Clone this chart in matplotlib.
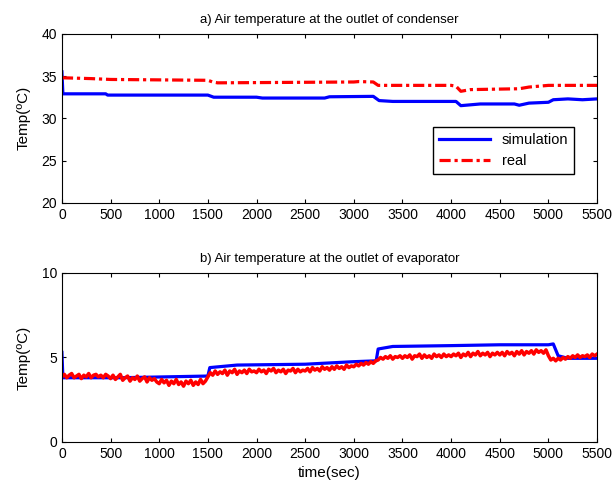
import numpy as np
import matplotlib
matplotlib.use("Agg")
import matplotlib.pyplot as plt

plt.rcParams["font.family"] = ["Liberation Sans", "DejaVu Sans"]

# a) condenser outlet, step-like series (time sec, temp C)
cond_sim_t = [0, 10, 450, 470, 1500, 1560, 2000, 2060, 2700, 2750, 3200, 3260, 3400,
              4050, 4100, 4200, 4300, 4650, 4700, 4800, 5000, 5050, 5200, 5350, 5500]
cond_sim = [35.5, 32.9, 32.9, 32.75, 32.75, 32.5, 32.5, 32.4, 32.4, 32.55, 32.6, 32.1, 32.0,
            32.0, 31.5, 31.6, 31.7, 31.7, 31.55, 31.8, 31.9, 32.2, 32.3, 32.2, 32.3]
cond_real_t = [0, 300, 500, 1500, 1550, 1600, 3000, 3050, 3200, 3250, 4000, 4050,
               4100, 4200, 4700, 4800, 5000, 5500]
cond_real = [34.8, 34.7, 34.6, 34.5, 34.3, 34.2, 34.3, 34.35, 34.3, 33.9, 33.9, 33.8,
             33.2, 33.4, 33.5, 33.7, 33.9, 33.9]

# b) evaporator outlet
evap_sim_t = [0, 10, 200, 600, 1500, 1520, 1800, 2500, 3000, 3230, 3250, 3400,
              4000, 4500, 5000, 5050, 5100, 5200, 5500]
evap_sim = [5.3, 3.8, 3.8, 3.8, 3.9, 4.4, 4.55, 4.6, 4.75, 4.8, 5.5, 5.65,
            5.7, 5.75, 5.75, 5.8, 5.1, 4.95, 4.95]
evap_real_t = np.arange(0, 5501, 25)
evap_real = [
    3.85, 4.0, 3.8, 3.95, 4.05, 3.8, 3.9, 4.0, 3.75, 3.95, 3.85, 4.05, 3.8, 3.95, 4.0, 3.85, 3.95, 3.8, 4.0, 3.9,
    3.75, 3.95, 3.7, 3.85, 4.0, 3.65, 3.8, 3.9, 3.6, 3.8, 3.7, 3.9, 3.6, 3.75, 3.85, 3.55, 3.8, 3.65, 3.75, 3.55,
    3.45, 3.7, 3.5, 3.65, 3.35, 3.6, 3.45, 3.7, 3.4, 3.55, 3.3, 3.6, 3.45, 3.65, 3.35, 3.55, 3.4, 3.7, 3.45, 3.6,
    3.85, 4.1, 3.95, 4.2, 4.0, 4.15, 4.05, 4.25, 3.95, 4.2, 4.1, 4.3, 4.0, 4.2, 4.1, 4.25, 4.05, 4.3, 4.15, 4.2,
    4.1, 4.3, 4.15, 4.25, 4.05, 4.3, 4.2, 4.35, 4.1, 4.25, 4.15, 4.3, 4.05, 4.25, 4.2, 4.35, 4.1, 4.3, 4.15, 4.25,
    4.2, 4.35, 4.15, 4.4, 4.25, 4.35, 4.2, 4.45, 4.3, 4.4, 4.25, 4.45, 4.3, 4.5, 4.35, 4.45, 4.3, 4.55, 4.4, 4.5,
    4.45, 4.6, 4.5, 4.65, 4.55, 4.7, 4.6, 4.75, 4.65, 4.8, 4.85, 5.0, 4.9, 5.05, 4.95, 5.1, 4.9, 5.05, 5.0, 5.1,
    4.95, 5.1, 5.0, 5.15, 4.9, 5.1, 5.05, 5.2, 4.95, 5.15, 5.0, 5.1, 4.95, 5.2, 5.05, 5.15, 5.0, 5.2, 5.05, 5.15,
    5.05, 5.2, 5.1, 5.25, 5.0, 5.2, 5.1, 5.3, 5.05, 5.25, 5.15, 5.35, 5.1, 5.25, 5.15, 5.3, 5.05, 5.25, 5.15, 5.3,
    5.15, 5.3, 5.1, 5.35, 5.2, 5.3, 5.1, 5.35, 5.2, 5.4, 5.15, 5.35, 5.25, 5.4, 5.2, 5.45, 5.3, 5.4, 5.25, 5.45,
    5.1, 4.85, 4.95, 4.8, 4.95, 4.85, 5.0, 4.9, 5.05, 4.95, 5.1, 5.0, 5.15, 5.0, 5.1, 5.05, 5.15, 5.0, 5.2, 5.1,
    5.2]

xticks = list(range(0, 5501, 500))

fig = plt.figure(figsize=(6.13, 4.9), dpi=100)
ax1 = fig.add_axes([0.101, 0.586, 0.873, 0.345])
ax2 = fig.add_axes([0.101, 0.098, 0.873, 0.345])


def style(ax, yticks, title):
    ax.set_xlim(0, 5500)
    ax.set_xticks(xticks)
    ax.set_ylim(yticks[0], yticks[-1])
    ax.set_yticks(yticks)
    ax.tick_params(direction="in", top=True, right=True, labelsize=10, length=3)
    ax.set_title(title, fontsize=9.5, pad=8)
    ax.set_ylabel("Temp(ºC)", fontsize=11, labelpad=8)


ax1.plot(cond_sim_t, cond_sim, color="blue", lw=2.3, label="simulation")
ax1.plot(cond_real_t, cond_real, color="red", lw=2.3, dashes=(3.5, 1.2, 1, 1.2), label="real")
style(ax1, [20, 25, 30, 35, 40], "a) Air temperature at the outlet of condenser")
ax1.legend(loc="upper right", bbox_to_anchor=(0.957, 0.45), fancybox=False,
           edgecolor="black", framealpha=1, fontsize=10.5, handlelength=3.5,
           borderaxespad=0)

ax2.plot(evap_sim_t, evap_sim, color="blue", lw=2.3)
ax2.plot(evap_real_t, evap_real, color="red", lw=2.5)
style(ax2, [0, 5, 10], "b) Air temperature at the outlet of evaporator")
ax2.set_xlabel("time(sec)", fontsize=11, labelpad=4)

fig.savefig("out.png", dpi=100)
